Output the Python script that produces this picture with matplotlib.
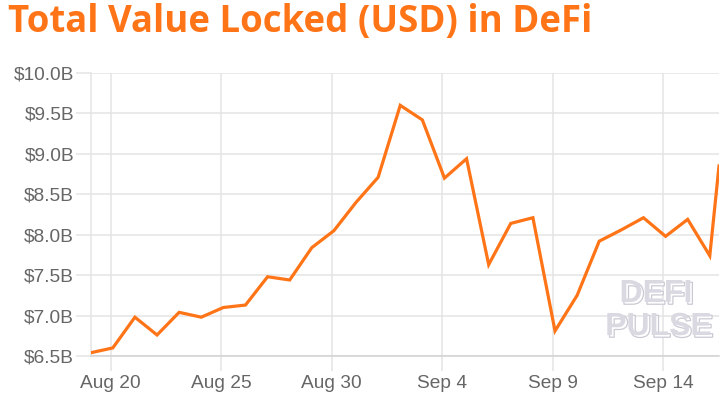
import matplotlib
matplotlib.use("Agg")
import matplotlib.pyplot as plt
import matplotlib.patheffects as pe
import pandas as pd
from matplotlib.ticker import FuncFormatter

# ---- data ----
dates = list(pd.date_range("2020-08-19 02:30", periods=29, freq="D")) + [pd.Timestamp("2020-09-16 12:30")]
tvl_billions = [6.54, 6.60, 6.98, 6.76, 7.04, 6.98, 7.10, 7.13, 7.48, 7.44,
                7.84, 8.05, 8.40, 8.71, 9.60, 9.42, 8.70, 8.94, 7.63, 8.14,
                8.21, 6.81, 7.25, 7.92, 8.06, 8.21, 7.98, 8.19, 7.74, 8.85]
x_tick_dates = pd.to_datetime(["2020-08-20", "2020-08-25", "2020-08-30",
                               "2020-09-04", "2020-09-09", "2020-09-14"])
x_tick_labels = ["Aug 20", "Aug 25", "Aug 30", "Sep 4", "Sep 9", "Sep 14"]
y_ticks = [6.5, 7.0, 7.5, 8.0, 8.5, 9.0, 9.5, 10.0]
title = "Total Value Locked (USD) in DeFi"
watermark = ["DEFI", "PULSE"]

ORANGE = "#FF7417"
GRID = "#e4e4e4"
TEXT = "#666666"

plt.rcParams['font.family'] = ['Liberation Sans', 'DejaVu Sans']

fig = plt.figure(figsize=(7.25, 3.98), dpi=100)
ax = fig.add_axes([90.7/725, 1-356/398, (719-90.7)/725, (356-73)/398])

ax.plot(dates, tvl_billions, color=ORANGE, lw=2.3, solid_joinstyle='miter', zorder=3)

ax.set_xlim(dates[0], dates[-1])
ax.set_ylim(6.5, 10.0)
ax.set_yticks(y_ticks)
ax.yaxis.set_major_formatter(FuncFormatter(lambda v, p: f"${v:.1f}B"))
ax.set_xticks(x_tick_dates)
ax.set_xticklabels(x_tick_labels)

ax.grid(True, color=GRID, lw=1.1)
ax.set_axisbelow(True)
for s in ["top", "right"]:
    ax.spines[s].set_visible(False)
ax.spines["left"].set_color(GRID)
ax.spines["left"].set_linewidth(1.1)
ax.spines["bottom"].set_color("#d2d2d2")
ax.spines["bottom"].set_linewidth(1.1)
ax.tick_params(axis='both', colors=GRID, labelcolor=TEXT, labelsize=13.8, length=11, width=1.1)
ax.tick_params(axis='y', pad=1)
ax.tick_params(axis='x', pad=3)

t = fig.text(8/725, 1-32/398, title, color=ORANGE, fontsize=25, fontweight='bold',
             family=['Open Sans', 'DejaVu Sans'], ha='left', va='baseline')
# fit title width to reference span (x 8..592 px)
fig.canvas.draw()
w = t.get_window_extent().width
t.set_fontsize(25 * 584 / w)

# watermark (single text each with offset outlined shadow)
effects = [pe.PathPatchEffect(offset=(1.6, -1.6), facecolor="white", edgecolor="#cbc9d3", linewidth=0.9),
           pe.Normal()]
for txt, xr, yb in [(watermark[0], 656/725, 1-302/398), (watermark[1], 658.5/725, 1-335/398)]:
    fig.text(xr, yb, txt, color="#dad8e1", fontsize=23, fontweight='bold',
             ha='center', va='baseline', path_effects=effects, zorder=5)

fig.savefig("out.png", dpi=100)
